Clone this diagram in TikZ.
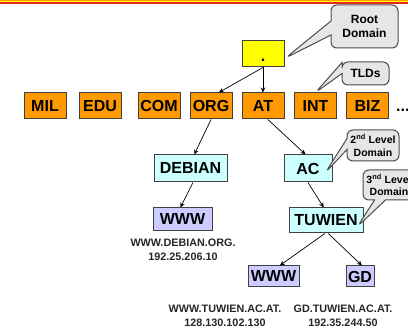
\documentclass[tikz,border=0pt]{standalone}
\usepackage{fontspec}
\setmainfont{Liberation Sans}
\usetikzlibrary{shapes.callouts,arrows.meta,calc}
\definecolor{boxorange}{HTML}{FF9900}
\definecolor{boxyellow}{HTML}{FFFF00}
\definecolor{boxcyan}{HTML}{CCFFFF}
\definecolor{boxlav}{HTML}{CCCCFF}
\definecolor{boxborder}{HTML}{404040}
\definecolor{calloutfill}{HTML}{E6E6E6}
\definecolor{calloutborder}{HTML}{4D4D4D}
\definecolor{barred}{HTML}{E8281C}
\definecolor{barorange}{HTML}{FF9A00}
\begin{document}
\begin{tikzpicture}[x=1pt,y=-1pt,
  box/.style={draw=boxborder,line width=1pt,inner sep=0pt,
    font=\fontsize{16}{18}\selectfont\bfseries},
  tld/.style={box,fill=boxorange,minimum width=42pt,minimum height=26pt},
  sld/.style={box,fill=boxcyan},
  host/.style={box,fill=boxlav},
  link/.style={-{Stealth[length=5pt,width=4.5pt]},line width=0.7pt},
  callbox/.style={rectangle callout,rounded corners=6pt,draw=calloutborder,
    fill=calloutfill,line width=1pt,inner sep=0pt,align=center},
  addr/.style={align=center,font=\fontsize{10.8}{13.5}\selectfont\bfseries,
    text=black!85}
]
\useasboundingbox (0,0) rectangle (408,328);
\clip (0,0) rectangle (408,328);
% top bar
\fill[barorange] (0,0) rectangle (408,1.2);
\fill[boxyellow] (0,1.2) rectangle (408,2.2);
\fill[barred] (0,2.2) rectangle (408,3.8);

% root
\node[box,fill=boxyellow,minimum width=42pt,minimum height=26pt,
  text height=16pt,text depth=0pt] (root) at (263,54) {.};

% TLDs
\node[tld] (mil) at (45,106) {MIL};
\node[tld] (edu) at (100,106) {EDU};
\node[tld] (com) at (159,106) {COM};
\node[tld] (org) at (211,106) {ORG};
\node[tld] (at)  at (263,106) {AT};
\node[tld] (int) at (315.5,106) {INT};
\node[tld] (biz) at (367.5,106) {BIZ};
\node[anchor=base west,inner sep=0pt,font=\fontsize{16}{18}\selectfont\bfseries] (dots) at (396,112) {...};

% second level
\node[sld,minimum width=73pt,minimum height=27pt] (debian) at (190.5,168.5) {DEBIAN};
\node[sld,minimum width=48pt,minimum height=27pt] (ac) at (308,168.5) {AC};

% third level
\node[host,minimum width=59pt,minimum height=23pt] (wwwd) at (182.5,219.5) {WWW};
\node[sld,minimum width=74pt,minimum height=25pt] (tuwien) at (326,220.5) {TUWIEN};

% fourth level
\node[host,minimum width=51pt,minimum height=21pt] (wwwt) at (273.5,276.5) {WWW};
\node[host,minimum width=28pt,minimum height=21pt] (gd) at (360,276.5) {GD};

% connectors
\draw[link] (root.south) -- (org.60);
\draw[link] (root.south) -- (at.north);
\draw[link] (org.south) -- (debian.75);
\draw[link] (at.-70) -- (ac.100);
\draw[link] (debian.-80) -- (wwwd.100);
\draw[link] (ac.south) -- (tuwien.100);
\draw[link] (tuwien.-95) -- (wwwt.60);
\draw[link] (tuwien.-80) -- (gd.80);

% address labels
\node[addr] (lwwwd) at (183,250) {WWW.DEBIAN.ORG.\\192.25.206.10};
\node[addr] (lwwwt) at (225,316) {WWW.TUWIEN.AC.AT.\\128.130.102.130};
\node[addr] (lgd) at (343,316) {GD.TUWIEN.AC.AT.\\192.35.244.50};

% callouts
\coordinate (rootTip) at ($(root.east)+(1,4)$);
\coordinate (acTip) at ($(ac.east)+(-7,4)$);
\coordinate (tuTip) at ($(tuwien.east)+(-6,6)$);
\node[callbox,minimum width=67pt,minimum height=43pt,
  callout absolute pointer={(rootTip)},callout pointer width=14pt,
  font=\fontsize{12}{14}\selectfont\bfseries] (croot) at (364.5,26.5) {Root\\Domain};
\node[callbox,minimum width=47pt,minimum height=23pt,
  callout absolute pointer={(int.north)},callout pointer width=11pt,
  font=\fontsize{12}{14}\selectfont\bfseries] (ctld) at (365.5,73.5) {TLDs};
\node[callbox,minimum width=52pt,minimum height=31pt,
  callout absolute pointer={(acTip)},callout pointer width=11pt,
  font=\fontsize{10.5}{12.5}\selectfont\bfseries] (csld) at (373,145.5) {2\textsuperscript{nd} Level\\Domain};
\node[callbox,minimum width=52pt,minimum height=30pt,
  callout absolute pointer={(tuTip)},callout pointer width=11pt,
  font=\fontsize{10.5}{12.5}\selectfont\bfseries] (c3ld) at (389,185) {3\textsuperscript{nd} Level\\Domain};
\end{tikzpicture}
\end{document}
